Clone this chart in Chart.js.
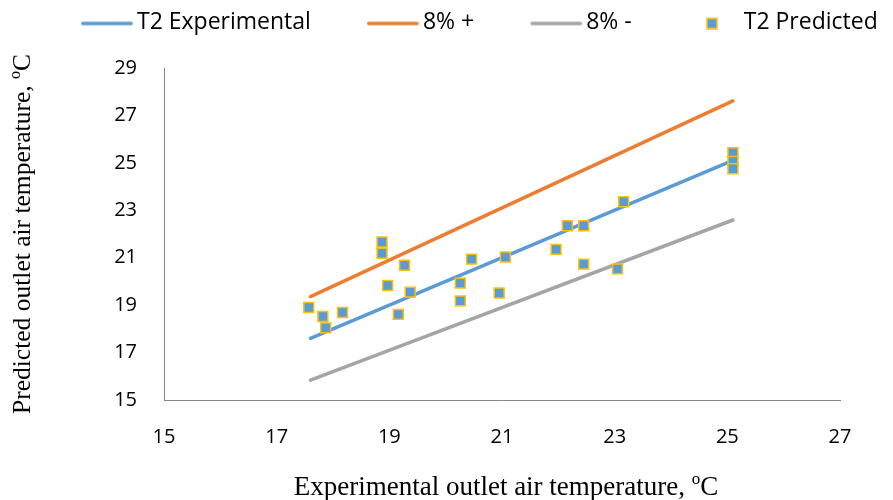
<!DOCTYPE html>
<html>
<head>
<meta charset="utf-8">
<script src="https://cdn.jsdelivr.net/npm/chart.js@4.4.0/dist/chart.umd.min.js"></script>
<style>
  html, body { margin: 0; padding: 0; background: #fff; }
  #wrap { width: 893px; height: 500px; position: relative; }
</style>
</head>
<body>
<div id="wrap"><canvas id="chart"></canvas></div>
<script>
// reference lines (start / end)
const lineX = [17.6, 25.1];
const expY = [17.6, 25.1];
const plusY = [19.36, 27.61];
const minusY = [15.84, 22.59];

// predicted points
const predX = [17.57, 17.82, 17.87, 18.17, 18.87, 18.87, 19.27, 18.97, 19.37, 19.16,
  20.46, 20.26, 20.26, 21.06, 20.95, 23.16, 22.16, 22.45, 21.96, 22.45, 23.05, 25.1, 25.1, 25.1];
const predY = [18.9, 18.52, 18.04, 18.69, 21.66, 21.19, 20.68, 19.83, 19.55, 18.61,
  20.94, 19.93, 19.18, 21.03, 19.51, 23.36, 22.35, 22.35, 21.35, 20.73, 20.53, 25.43, 25.06, 24.75];

const xTicks = [15, 17, 19, 21, 23, 25, 27];
const yTicks = [15, 17, 19, 21, 23, 25, 27, 29];

const xTitle = "Experimental outlet air temperature, ";
const yTitle = "Predicted outlet air temperature, ";

const BLUE = "#5B9BD5";
const ORANGE = "#ED7D31";
const GRAY = "#A5A5A5";
const GOLD = "#FFC000";

const toPts = (xs, ys) => xs.map((x, i) => ({ x: x, y: ys[i] }));

// legend swatches (drawn as images so the spacing matches Excel)
const makeSwatch = (draw) => {
  const c = document.createElement("canvas");
  c.width = 120;
  c.height = 14;
  draw(c.getContext("2d"));
  return c;
};
const lineSwatch = (color) => makeSwatch((g) => {
  g.strokeStyle = color;
  g.lineWidth = 3.5;
  g.lineCap = "round";
  g.beginPath();
  g.moveTo(66.5, 8);
  g.lineTo(115, 8);
  g.stroke();
});
const squareSwatch = makeSwatch((g) => {
  g.fillStyle = BLUE;
  g.strokeStyle = GOLD;
  g.lineWidth = 1.5;
  g.fillRect(84, 3, 10, 10);
  g.strokeRect(84, 3, 10, 10);
});
const swatches = [lineSwatch(BLUE), lineSwatch(ORANGE), lineSwatch(GRAY), squareSwatch];

// legend sits higher than the layout puts it
const legendShift = {
  id: "legendShift",
  afterLayout(chart) {
    chart.legend.top -= 24;
    chart.legend.bottom -= 24;
  }
};

// axis titles with superscript o
const titlesPlugin = {
  id: "titles",
  afterDraw(chart) {
    const ctx = chart.ctx;
    const drawTitle = (text, cx, cy, rot, size) => {
      const big = size + "px 'Liberation Serif'";
      const small = Math.round(size * 0.62) + "px 'Liberation Serif'";
      ctx.save();
      ctx.translate(cx, cy);
      ctx.rotate(rot);
      ctx.fillStyle = "#000";
      ctx.textBaseline = "alphabetic";
      ctx.font = big;
      const w1 = ctx.measureText(text).width;
      const w3 = ctx.measureText("C").width;
      ctx.font = small;
      const w2 = ctx.measureText("o").width;
      let x = -(w1 + w2 + w3) / 2;
      ctx.font = big;
      ctx.fillText(text, x, 8);
      x += w1;
      ctx.font = small;
      ctx.fillText("o", x, 8 - size * 0.4);
      x += w2;
      ctx.font = big;
      ctx.fillText("C", x, 8);
      ctx.restore();
    };
    drawTitle(xTitle, 506, 487, 0, 27);
    drawTitle(yTitle, 22, 234, -Math.PI / 2, 25.5);
  }
};

const ctx = document.getElementById("chart");
new Chart(ctx, {
  type: "scatter",
  data: {
    datasets: [
      {
        type: "line",
        label: "T2 Experimental",
        data: toPts(lineX, expY),
        borderColor: BLUE,
        backgroundColor: BLUE,
        borderWidth: 3.5,
        borderCapStyle: "round",
        pointRadius: 0,
        order: 1,
      },
      {
        type: "line",
        label: "8% +",
        data: toPts(lineX, plusY),
        borderColor: ORANGE,
        backgroundColor: ORANGE,
        borderWidth: 3.5,
        borderCapStyle: "round",
        pointRadius: 0,
        order: 1,
      },
      {
        type: "line",
        label: "8% -",
        data: toPts(lineX, minusY),
        borderColor: GRAY,
        backgroundColor: GRAY,
        borderWidth: 3.5,
        borderCapStyle: "round",
        pointRadius: 0,
        order: 1,
      },
      {
        label: "T2 Predicted",
        data: toPts(predX, predY),
        pointStyle: "rect",
        pointRadius: 7,
        pointHoverRadius: 7,
        backgroundColor: BLUE,
        borderColor: GOLD,
        borderWidth: 1.5,
        order: 0,
      },
    ],
  },
  options: {
    responsive: true,
    maintainAspectRatio: false,
    animation: false,
    layout: { padding: { left: 25, right: 0, top: 6, bottom: 0 } },
    plugins: {
      tooltip: { enabled: false },
      legend: {
        position: "top",
        align: "start",
        labels: {
          usePointStyle: true,
          pointStyleWidth: 98.5,
          boxHeight: 14,
          padding: 2,
          color: "#000",
          font: { family: "'Open Sans'", size: 23 },
          sort: (a, b) => a.datasetIndex - b.datasetIndex,
          generateLabels(chart) {
            const items = Chart.defaults.plugins.legend.labels.generateLabels(chart);
            items.forEach((it) => {
              it.pointStyle = swatches[it.datasetIndex];
            });
            return items;
          },
        },
      },
    },
    scales: {
      x: {
        type: "linear",
        min: 15,
        max: 27,
        afterBuildTicks(axis) {
          axis.ticks = xTicks.map((v) => ({ value: v }));
        },
        afterFit(axis) {
          axis.height = 100;
        },
        grid: { display: true, color: "rgba(0,0,0,0)", drawTicks: false },
        border: { display: true, color: "#868686", width: 1 },
        ticks: {
          padding: 25,
          color: "#000",
          font: { family: "'Open Sans'", size: 20 },
        },
      },
      y: {
        type: "linear",
        min: 15,
        max: 29,
        afterBuildTicks(axis) {
          axis.ticks = yTicks.map((v) => ({ value: v }));
        },
        afterFit(axis) {
          axis.width = 139;
          axis.paddingTop = 68;
        },
        grid: { display: true, color: "rgba(0,0,0,0)", drawTicks: false },
        border: { display: true, color: "#868686", width: 1 },
        ticks: {
          padding: 27,
          color: "#000",
          font: { family: "'Open Sans'", size: 20 },
        },
      },
      // empty axis that keeps the right margin
      yr: {
        type: "linear",
        position: "right",
        min: 0,
        max: 1,
        afterFit(axis) {
          axis.width = 53;
        },
        grid: { display: false },
        border: { display: false },
        ticks: { display: false },
      },
    },
  },
  plugins: [legendShift, titlesPlugin],
});
</script>
</body>
</html>
